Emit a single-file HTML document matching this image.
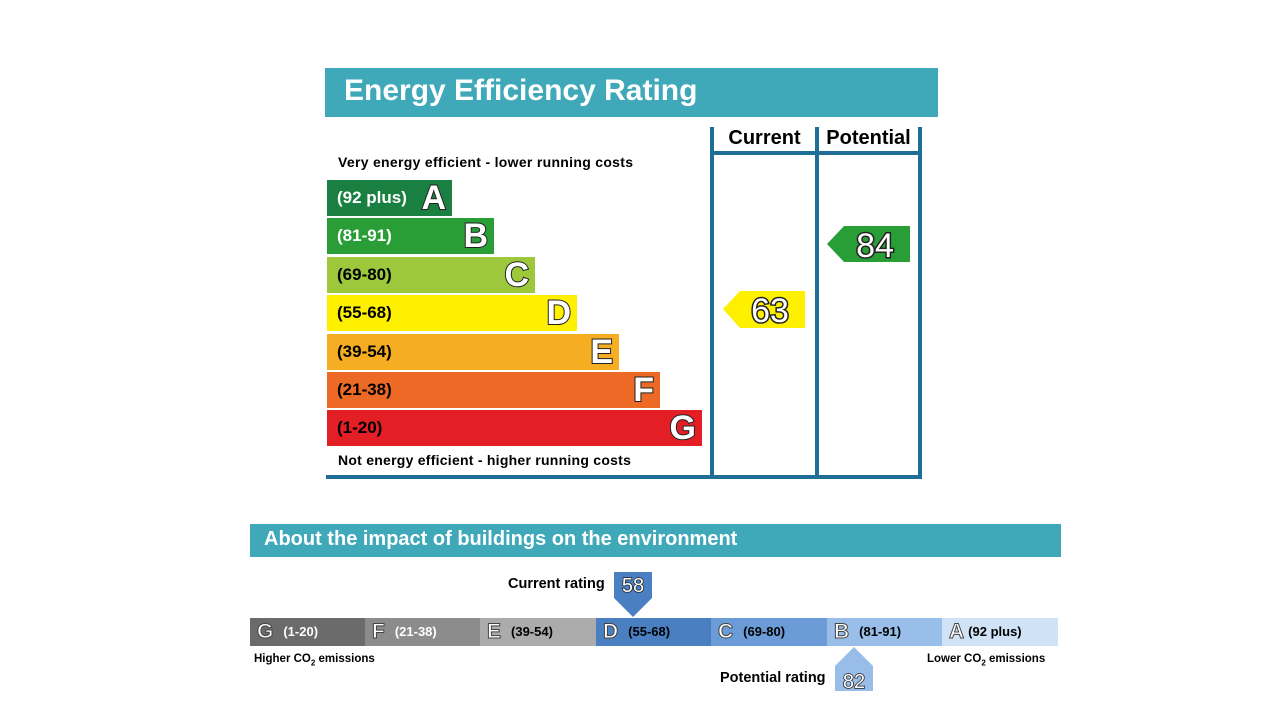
<!DOCTYPE html>
<html><head><meta charset="utf-8"><style>
body{margin:0;width:1280px;height:720px;background:#fff;position:relative;font-family:"Liberation Sans",sans-serif;overflow:hidden}
.a{position:absolute}
.bar{position:absolute;left:327px;height:36px;font-weight:bold;font-size:17px;line-height:36px;padding-left:10px;box-sizing:border-box}
.L{position:absolute;right:6px;top:-2px;font-size:34px;color:#fff;-webkit-text-stroke:2px #222;paint-order:stroke fill;font-weight:bold;line-height:40px}
.seg{position:absolute;top:618px;height:28px;font-size:13px;font-weight:bold;line-height:28px}
.sl{font-size:21px;color:#fff;-webkit-text-stroke:1px #444;margin:0 10px 0 7px;vertical-align:-2px}
.bl{position:absolute;background:#1e6e98}
</style></head><body>
<div class="a" style="left:325px;top:68px;width:613px;height:49px;background:#3fa8b9"></div>
<div class="a" style="left:344px;top:74px;color:#fff;font-weight:bold;font-size:30px">Energy Efficiency Rating</div>
<div class="a" style="left:338px;top:154px;font-size:14px;font-weight:bold;letter-spacing:0.3px">Very energy efficient - lower running costs</div>
<div class="a" style="left:338px;top:452px;font-size:14px;font-weight:bold;letter-spacing:0.25px">Not energy efficient - higher running costs</div>
<div class="bar" style="top:180px;width:125px;background:#1a8041;color:#fff">(92 plus)<span class="L">A</span></div>
<div class="bar" style="top:218px;width:167px;background:#2a9e36;color:#fff">(81-91)<span class="L">B</span></div>
<div class="bar" style="top:257px;width:208px;background:#9dc83c">(69-80)<span class="L">C</span></div>
<div class="bar" style="top:295px;width:250px;background:#fff000">(55-68)<span class="L">D</span></div>
<div class="bar" style="top:334px;width:292px;background:#f5ae22">(39-54)<span class="L">E</span></div>
<div class="bar" style="top:372px;width:333px;background:#ec6a25">(21-38)<span class="L">F</span></div>
<div class="bar" style="top:410px;width:375px;background:#e31e24">(1-20)<span class="L">G</span></div>
<div class="bl" style="left:710px;top:127px;width:4px;height:352px"></div>
<div class="bl" style="left:815px;top:127px;width:4px;height:352px"></div>
<div class="bl" style="left:918px;top:127px;width:4px;height:352px"></div>
<div class="bl" style="left:710px;top:151px;width:212px;height:4px"></div>
<div class="bl" style="left:326px;top:475px;width:596px;height:4px"></div>
<div class="a" style="left:714px;top:127px;width:101px;text-align:center;font-weight:bold;font-size:20px">Current</div>
<div class="a" style="left:819px;top:127px;width:99px;text-align:center;font-weight:bold;font-size:20px">Potential</div>
<svg class="a" style="left:0;top:0" width="1280" height="720">
<polygon points="723,309 740,291 805,291 805,328 740,328" fill="#fff000"/>
<polygon points="827,244 844,226 910,226 910,262 844,262" fill="#2a9e36"/>
<polygon points="614,572 652,572 652,598 633,617 614,598" fill="#4a7fc1"/>
<polygon points="854,647 873,666 873,691 835,691 835,666" fill="#97bde8"/>
<g font-family="Liberation Sans" text-anchor="middle" fill="#fff" stroke="#222" paint-order="stroke" >
<text x="770" y="322" font-size="34" stroke-width="3">63</text>
<text x="875" y="257" font-size="34" stroke-width="3">84</text>
<text x="633" y="592" font-size="20" stroke-width="1.5">58</text>
<text x="854" y="688" font-size="20" stroke-width="1.5">82</text>
</g>
</svg>
<div class="a" style="left:250px;top:524px;width:811px;height:33px;background:#3fa8b9"></div>
<div class="a" style="left:264px;top:528px;color:#fff;font-weight:bold;font-size:20px">About the impact of buildings on the environment</div>
<div class="a" style="left:508px;top:576px;font-weight:bold;font-size:14.5px">Current rating</div>
<div class="a" style="left:720px;top:670px;font-weight:bold;font-size:14.5px">Potential rating</div>
<div class="seg" style="left:250px;width:115px;background:#6b6b6b;color:#fff"><span class="sl">G</span>(1-20)</div>
<div class="seg" style="left:365px;width:115px;background:#8c8c8c;color:#fff"><span class="sl">F</span>(21-38)</div>
<div class="seg" style="left:480px;width:116px;background:#ababab"><span class="sl">E</span>(39-54)</div>
<div class="seg" style="left:596px;width:115px;background:#4a7fc1"><span class="sl">D</span>(55-68)</div>
<div class="seg" style="left:711px;width:116px;background:#6b9cd7"><span class="sl">C</span>(69-80)</div>
<div class="seg" style="left:827px;width:115px;background:#98bee9"><span class="sl">B</span>(81-91)</div>
<div class="seg" style="left:942px;width:116px;background:#d0e2f5"><span class="sl" style="margin-right:4px">A</span>(92 plus)</div>
<div class="a" style="left:254px;top:653px;font-weight:bold;font-size:11.5px">Higher CO<sub style="font-size:8px">2</sub> emissions</div>
<div class="a" style="left:927px;top:653px;font-weight:bold;font-size:11.5px">Lower CO<sub style="font-size:8px">2</sub> emissions</div>
</body></html>
